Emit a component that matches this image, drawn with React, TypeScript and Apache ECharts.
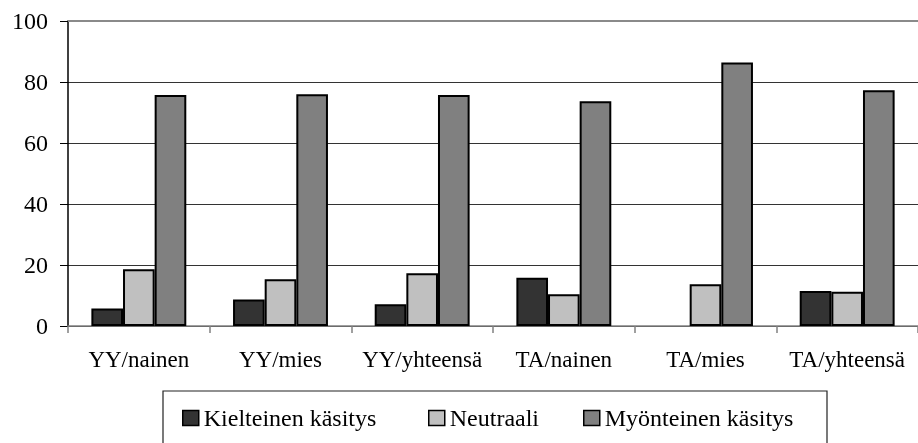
import React, { useEffect, useRef } from "react";
import * as echarts from "echarts";

const categories = ["YY/nainen", "YY/mies", "YY/yhteensä", "TA/nainen", "TA/mies", "TA/yhteensä"];
const seriesNames = ["Kielteinen käsitys", "Neutraali", "Myönteinen käsitys"];
const kielteinen = [5.7, 8.7, 7.1, 15.8, 0, 11.5];
const neutraali = [18.6, 15.3, 17.3, 10.4, 13.7, 11.2];
const myonteinen = [75.7, 76.0, 75.7, 73.7, 86.4, 77.3];
const seriesColors = ["#333333", "#c0c0c0", "#808080"];
const yTicks = { min: 0, max: 100, interval: 20 };

const FONT = "Liberation Serif";

export default function App() {
  const ref = useRef<HTMLDivElement>(null);
  useEffect(() => {
    document.body.style.margin = "0";
    const chart = echarts.init(ref.current!, undefined, { renderer: "svg" });
    const values = [kielteinen, neutraali, myonteinen];
    const legendLefts = [182, 428, 583];
    chart.setOption({
      animation: false,
      textStyle: { fontFamily: FONT },
      grid: { left: 68, top: 21, width: 854, height: 305 },
      xAxis: [
        {
          type: "category",
          data: categories,
          position: "bottom",
          axisLine: { lineStyle: { color: "#808080", width: 1.5 } },
          axisTick: { show: true, length: 7, lineStyle: { color: "#808080", width: 1.5 } },
          axisLabel: { color: "#000", fontFamily: FONT, fontSize: 23, margin: 22, interval: 0 },
          splitLine: { show: false },
        },
        {
          type: "category",
          data: categories,
          position: "top",
          axisLine: { lineStyle: { color: "#8a8a8a", width: 2 } },
          axisTick: { show: false },
          axisLabel: { show: false },
          splitLine: { show: false },
        },
      ],
      yAxis: {
        type: "value",
        min: yTicks.min,
        max: yTicks.max,
        interval: yTicks.interval,
        axisLine: { show: true, lineStyle: { color: "#000", width: 1.5 } },
        axisTick: { show: true, length: 8, lineStyle: { color: "#000", width: 1 } },
        axisLabel: { color: "#000", fontFamily: FONT, fontSize: 24, margin: 20 },
        splitLine: { show: true, showMaxLine: false, lineStyle: { color: "#333", width: 1 } },
      },
      legend: legendLefts.map((l, i) => ({
        show: true,
        left: l,
        top: 406,
        padding: 0,
        itemWidth: 16,
        itemHeight: 15,
        itemGap: 5,
        textStyle: { color: "#000", fontFamily: FONT, fontSize: 24 },
        data: [
          {
            name: seriesNames[i],
            icon: "rect",
            itemStyle: { color: seriesColors[i], borderColor: "#000", borderWidth: 1.5 },
          },
        ],
      })),
      graphic: [
        {
          type: "rect",
          shape: { x: 163, y: 391, width: 664, height: 70 },
          style: { fill: "none", stroke: "#222", lineWidth: 1.2 },
          silent: true,
        },
      ],
      series: seriesNames.map((name, i) => ({
        name,
        type: "bar",
        data: values[i].map((v) => ({ value: v, itemStyle: { borderWidth: v === 0 ? 0 : 2 } })),
        barGap: "0%",
        barCategoryGap: "33%",
        itemStyle: { color: seriesColors[i], borderColor: "#000", borderWidth: 2 },
      })),
    });
    return () => chart.dispose();
  }, []);
  return <div ref={ref} style={{ position: "fixed", left: 0, top: 0, width: 918, height: 443 }} />;
}
